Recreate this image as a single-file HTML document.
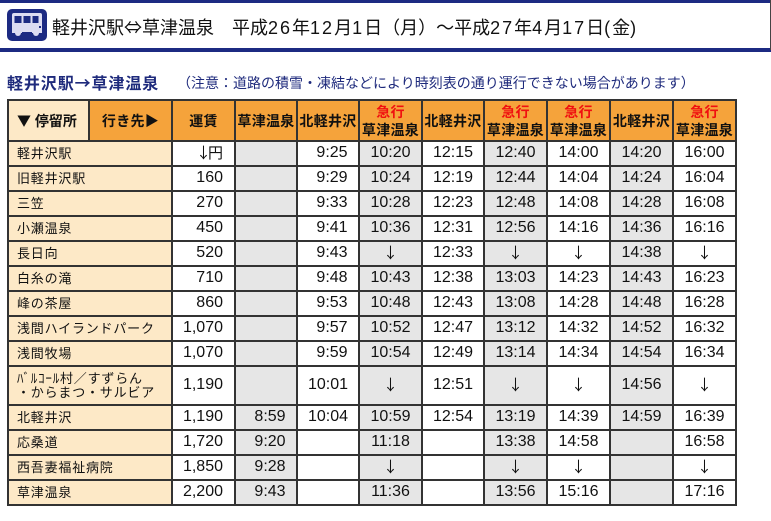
<!DOCTYPE html>
<html lang="ja">
<head>
<meta charset="utf-8">
<style>
  html,body{margin:0;padding:0;background:#fff;}
  body{width:771px;height:521px;position:relative;overflow:hidden;
       font-family:"Liberation Sans","Noto Sans CJK JP",sans-serif;color:#111;}
  .bar1{position:absolute;left:0;top:0;width:771px;height:3px;background:#1c2a82;}
  .bar2{position:absolute;left:0;top:48px;width:771px;height:4px;background:#1c2a82;}
  .rline{position:absolute;left:770px;top:0;width:1px;height:50px;background:#444;}
  .title{position:absolute;left:52px;top:17px;font-size:18px;line-height:20px;white-space:nowrap;color:#111;}
  .title .d{letter-spacing:2px;}
  .j{font-family:"Noto Sans CJK JP",sans-serif;}
  .sub{position:absolute;left:7px;top:73px;font-size:16px;line-height:18px;font-weight:bold;color:#1e2a7c;letter-spacing:0.9px;white-space:nowrap;}
  .note{position:absolute;left:177px;top:75px;font-size:14px;line-height:16px;color:#1e2a7c;white-space:nowrap;}
  .grid{position:absolute;left:7px;top:99px;display:grid;
        grid-template-columns:81px 83px 63px 62px 62px 63px 62px 63px 63px 63px 63px;
        grid-template-rows:41px repeat(9,25px) 39px repeat(4,25px);
        border-left:2px solid #333;border-top:2px solid #333;}
  .grid>div{box-sizing:border-box;border-right:2px solid #333;border-bottom:2px solid #333;
        display:flex;align-items:center;justify-content:center;white-space:nowrap;}
  .h{background:#f5a33b;font-size:14px;font-weight:bold;letter-spacing:0.3px;text-align:center;line-height:18px;}
  .hc{background:#fde9c7;font-size:14px;font-weight:bold;justify-content:flex-start !important;padding-left:8px;}
  .r{color:#f01010;}
  .s{grid-column:span 2;background:#fde9c7;font-size:13px;letter-spacing:0.8px;justify-content:flex-start !important;padding-left:8px;line-height:14px;}
  .f{background:#fff;font-size:16px;justify-content:flex-end !important;padding-right:11px;padding-bottom:2px;}
  .w{background:#fff;font-size:16px;padding-bottom:2px;}
  .g{background:#e6e6e6;font-size:16px;padding-bottom:2px;}
  .p{padding-left:8px;}
  .fy{font-family:"Noto Sans CJK JP",sans-serif;font-size:15px;}
  .a{font-family:"Noto Sans CJK JP",sans-serif;font-size:15px;}
  .fa{font-family:"Noto Sans CJK JP",sans-serif;font-size:15px;margin-right:-3px;}
</style>
</head>
<body>
<div class="bar1"></div>
<div class="bar2"></div>
<div class="rline"></div>
<svg style="position:absolute;left:0;top:0" width="60" height="50" viewBox="0 0 60 50">
  <rect x="7" y="9" width="40" height="32" rx="5" ry="5" fill="#1c2a82"/>
  <path d="M14 13 H40 Q42 13 42 15 V31 Q42 33 40 33 H14 Q12 33 12 31 V15 Q12 13 14 13 Z" fill="#dcdcf2"/>
  <rect x="14.5" y="16" width="7" height="7" fill="#1c2a82"/>
  <rect x="23.5" y="16" width="7" height="7" fill="#1c2a82"/>
  <rect x="32.5" y="16" width="6" height="7" fill="#1c2a82"/>
  <rect x="12" y="29" width="30" height="4" fill="#dcdcf2"/>
  <circle cx="18" cy="33" r="3" fill="#dcdcf2"/>
  <circle cx="36" cy="33" r="3" fill="#dcdcf2"/>
  <rect x="22" y="32" width="10" height="3" fill="#1c2a82"/>
  <rect x="39" y="26" width="2" height="2" fill="#1c2a82"/>
</svg>
<div class="title">軽井沢駅<span class="j">⇔</span>草津温泉　平成<span class="d">26</span>年<span class="d">12</span>月<span class="d">1</span>日（月）～平成<span class="d">27</span>年<span class="d">4</span>月<span class="d">17</span>日<span class="d">(</span>金<span class="d">)</span></div>
<div class="sub">軽井沢駅<span class="j">→</span>草津温泉</div>
<div class="note">（注意：道路の積雪・凍結などにより時刻表の通り運行できない場合があります）</div>

<div class="grid">
  <div class="hc"><span class="j">▼</span>&nbsp;停留所</div>
  <div class="h">行き先<span class="j">▶</span></div>
  <div class="h">運賃</div>
  <div class="h">草津温泉</div>
  <div class="h">北軽井沢</div>
  <div class="h"><span><span class="r">急行</span><br>草津温泉</span></div>
  <div class="h">北軽井沢</div>
  <div class="h"><span><span class="r">急行</span><br>草津温泉</span></div>
  <div class="h"><span><span class="r">急行</span><br>草津温泉</span></div>
  <div class="h">北軽井沢</div>
  <div class="h"><span><span class="r">急行</span><br>草津温泉</span></div>

  <div class="s">軽井沢駅</div><div class="f"><span class="fa">↓</span><span class="fy">円</span></div><div class="g"></div><div class="w p">9:25</div><div class="g">10:20</div><div class="w">12:15</div><div class="g">12:40</div><div class="w">14:00</div><div class="g">14:20</div><div class="w">16:00</div>

  <div class="s">旧軽井沢駅</div><div class="f">160</div><div class="g"></div><div class="w p">9:29</div><div class="g">10:24</div><div class="w">12:19</div><div class="g">12:44</div><div class="w">14:04</div><div class="g">14:24</div><div class="w">16:04</div>

  <div class="s">三笠</div><div class="f">270</div><div class="g"></div><div class="w p">9:33</div><div class="g">10:28</div><div class="w">12:23</div><div class="g">12:48</div><div class="w">14:08</div><div class="g">14:28</div><div class="w">16:08</div>

  <div class="s">小瀬温泉</div><div class="f">450</div><div class="g"></div><div class="w p">9:41</div><div class="g">10:36</div><div class="w">12:31</div><div class="g">12:56</div><div class="w">14:16</div><div class="g">14:36</div><div class="w">16:16</div>

  <div class="s">長日向</div><div class="f">520</div><div class="g"></div><div class="w p">9:43</div><div class="g"><span class="a">↓</span></div><div class="w">12:33</div><div class="g"><span class="a">↓</span></div><div class="w"><span class="a">↓</span></div><div class="g">14:38</div><div class="w"><span class="a">↓</span></div>

  <div class="s">白糸の滝</div><div class="f">710</div><div class="g"></div><div class="w p">9:48</div><div class="g">10:43</div><div class="w">12:38</div><div class="g">13:03</div><div class="w">14:23</div><div class="g">14:43</div><div class="w">16:23</div>

  <div class="s">峰の茶屋</div><div class="f">860</div><div class="g"></div><div class="w p">9:53</div><div class="g">10:48</div><div class="w">12:43</div><div class="g">13:08</div><div class="w">14:28</div><div class="g">14:48</div><div class="w">16:28</div>

  <div class="s">浅間ハイランドパーク</div><div class="f">1,070</div><div class="g"></div><div class="w p">9:57</div><div class="g">10:52</div><div class="w">12:47</div><div class="g">13:12</div><div class="w">14:32</div><div class="g">14:52</div><div class="w">16:32</div>

  <div class="s">浅間牧場</div><div class="f">1,070</div><div class="g"></div><div class="w p">9:59</div><div class="g">10:54</div><div class="w">12:49</div><div class="g">13:14</div><div class="w">14:34</div><div class="g">14:54</div><div class="w">16:34</div>

  <div class="s"><span>ﾊﾞﾙｺｰﾙ村／すずらん<br>・からまつ・サルビア</span></div><div class="f">1,190</div><div class="g"></div><div class="w">10:01</div><div class="g"><span class="a">↓</span></div><div class="w">12:51</div><div class="g"><span class="a">↓</span></div><div class="w"><span class="a">↓</span></div><div class="g">14:56</div><div class="w"><span class="a">↓</span></div>

  <div class="s">北軽井沢</div><div class="f">1,190</div><div class="g p">8:59</div><div class="w">10:04</div><div class="g">10:59</div><div class="w">12:54</div><div class="g">13:19</div><div class="w">14:39</div><div class="g">14:59</div><div class="w">16:39</div>

  <div class="s">応桑道</div><div class="f">1,720</div><div class="g p">9:20</div><div class="w"></div><div class="g">11:18</div><div class="w"></div><div class="g">13:38</div><div class="w">14:58</div><div class="g"></div><div class="w">16:58</div>

  <div class="s">西吾妻福祉病院</div><div class="f">1,850</div><div class="g p">9:28</div><div class="w"></div><div class="g"><span class="a">↓</span></div><div class="w"></div><div class="g"><span class="a">↓</span></div><div class="w"><span class="a">↓</span></div><div class="g"></div><div class="w"><span class="a">↓</span></div>

  <div class="s">草津温泉</div><div class="f">2,200</div><div class="g p">9:43</div><div class="w"></div><div class="g">11:36</div><div class="w"></div><div class="g">13:56</div><div class="w">15:16</div><div class="g"></div><div class="w">17:16</div>
</div>
</body>
</html>
